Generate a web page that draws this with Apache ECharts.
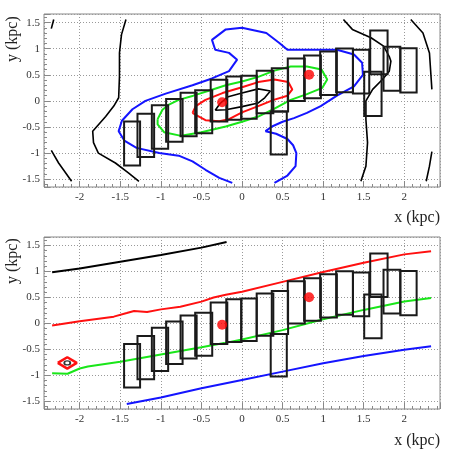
<!DOCTYPE html>
<html><head><meta charset="utf-8">
<script src="https://cdn.jsdelivr.net/npm/echarts@6/dist/echarts.min.js"></script>
<style>html,body{margin:0;padding:0;background:#fff}#c{width:458px;height:462px}</style>
</head><body><div id="c"></div>
<script>
// ---- data ----
const xTickLabels = ['-2','-1.5','-1','-0.5','0','0.5','1','1.5','2'];
const yTickLabels = ['-1.5','-1','-0.5','0','0.5','1','1.5'];

const boxX0 = [-1.453,-1.288,-1.111,-0.935,-0.757,-0.577,-0.386,-0.194,-0.009,0.181,0.367,0.354,0.564,0.765,0.963,1.160,1.367,1.580,1.506,1.744,1.951];
const boxX1 = [-1.256,-1.083,-0.910,-0.732,-0.559,-0.367,-0.181,-0.009,0.181,0.386,0.568,0.552,0.774,0.972,1.169,1.367,1.568,1.794,1.720,1.951,2.152];
const boxY0 = [-1.236,-1.075,-0.916,-0.781,-0.679,-0.622,-0.397,-0.359,-0.340,-0.238,-0.205,-1.025,0.000,0.050,0.115,0.165,0.140,0.511,-0.288,0.192,0.159];
const boxY1 = [-0.397,-0.244,-0.084,0.038,0.154,0.204,0.403,0.466,0.480,0.576,0.626,-0.205,0.812,0.869,0.946,1.004,0.979,1.349,0.557,1.036,1.010];

const dotX = [-0.245, 0.827];
const dotY = [-0.027, 0.503];

// top panel contours
const cBlackLeft = [[-1.43,1.56],[-1.485,1.27],[-1.51,0.92],[-1.51,0.47],[-1.52,0.06],[-1.58,-0.10],[-1.68,-0.30],[-1.84,-0.58],[-1.83,-0.80],[-1.77,-1.0],[-1.56,-1.19],[-1.40,-1.38],[-1.27,-1.54]];
const cBlackTL = [[-2.35,1.385],[-2.32,1.56]];
const cBlackBL = [[-2.35,-0.95],[-2.26,-1.19],[-2.10,-1.54]];
const cBlackR = [[2.08,1.56],[2.23,1.30],[2.31,0.92],[2.34,0.22]];
const cBlackBR = [[2.34,-0.97],[2.31,-1.25],[2.27,-1.54]];
const cBlackMid = [[1.25,1.56],[1.36,1.37],[1.59,1.21],[1.745,1.05],[1.815,0.85],[1.835,0.76],[1.815,0.57],[1.73,0.41],[1.61,0.22],[1.527,0.0],[1.527,-0.36],[1.547,-0.80],[1.527,-1.25],[1.465,-1.54]];
const cBlackCore = [[-0.33,-0.18],[-0.27,-0.05],[-0.17,0.08],[0.0,0.15],[0.2,0.23],[0.35,0.19],[0.28,0.06],[0.2,-0.04],[0.0,-0.11],[-0.2,-0.17],[-0.33,-0.18]];
const cRed = [[-0.61,-0.23],[-0.57,-0.10],[-0.45,0.02],[-0.24,0.15],[0,0.26],[0.2,0.36],[0.4,0.41],[0.57,0.36],[0.62,0.22],[0.56,0.10],[0.39,0.02],[0.2,-0.10],[0,-0.22],[-0.16,-0.35],[-0.28,-0.39],[-0.45,-0.37],[-0.57,-0.27],[-0.61,-0.23]];
const cGreen = [[-1.04,-0.35],[-0.98,-0.17],[-0.9,-0.07],[-0.78,0.02],[-0.6,0.10],[-0.4,0.20],[-0.2,0.30],[0,0.37],[0.2,0.46],[0.4,0.58],[0.6,0.66],[0.8,0.66],[0.98,0.60],[1.05,0.41],[0.99,0.25],[0.8,0.13],[0.6,0.02],[0.4,-0.15],[0.2,-0.30],[0,-0.40],[-0.2,-0.49],[-0.5,-0.60],[-0.75,-0.67],[-0.96,-0.60],[-1.04,-0.45],[-1.04,-0.35]];
const cBlue = [[-0.12,-1.57],[-0.28,-1.475],[-0.45,-1.32],[-0.61,-1.16],[-0.78,-1.05],[-1.02,-1.0],[-1.30,-0.90],[-1.45,-0.76],[-1.52,-0.58],[-1.48,-0.38],[-1.35,-0.16],[-1.19,0.0],[-0.94,0.14],[-0.61,0.30],[-0.37,0.43],[-0.16,0.57],[-0.06,0.79],[-0.16,0.92],[-0.33,0.98],[-0.37,1.17],[-0.2,1.37],[0.0,1.40],[0.3,1.30],[0.46,1.11],[0.56,0.98],[1.17,0.98],[1.38,0.89],[1.48,0.73],[1.49,0.50],[1.38,0.28],[1.17,0.10],[0.97,-0.10],[0.8,-0.23],[0.64,-0.33],[0.5,-0.40],[0.37,-0.49],[0.29,-0.58],[0.42,-0.63],[0.56,-0.73],[0.63,-0.85],[0.67,-1.0],[0.66,-1.25],[0.56,-1.43],[0.40,-1.57]];

// bottom panel lines
const lBlack = [[-2.34,0.985],[-2,1.06],[-1.5,1.19],[-1,1.32],[-0.5,1.46],[-0.19,1.57]];
const lRed = [[-2.34,-0.04],[-2,0.04],[-1.58,0.13],[-1.42,0.2],[-1.33,0.24],[-1.17,0.22],[-1,0.27],[-0.76,0.32],[-0.5,0.42],[-0.35,0.5],[-0.2,0.55],[0,0.61],[0.5,0.8],[1,0.99],[1.5,1.17],[2,1.33],[2.33,1.39]];
const lGreen = [[-2.34,-0.96],[-2.15,-0.97],[-2.0,-0.87],[-1.9,-0.83],[-1.5,-0.74],[-1,-0.6],[-0.5,-0.46],[-0.22,-0.38],[0,-0.31],[0.5,-0.13],[1,0.08],[1.5,0.26],[2,0.42],[2.33,0.49]];
const lBlue = [[-1.42,-1.555],[-1,-1.43],[-0.5,-1.25],[0,-1.09],[0.5,-0.93],[1,-0.77],[1.5,-0.63],[2,-0.51],[2.33,-0.44]];
const lDiamond = [[-2.27,-0.762],[-2.153,-0.652],[-2.036,-0.762],[-2.153,-0.872],[-2.27,-0.762]];
const lDiamondCore = [[-2.153,-0.762]];

// ---- chart ----
const serif = "'Liberation Serif','DejaVu Serif',serif";
const chart = echarts.init(document.getElementById('c'));
const fmt = (labels) => (v) => { const s = String(Math.round(v*10)/10); return labels.includes(s) ? s : ''; };

function xAx(gi){ return {
  type:'value', gridIndex:gi, min:-2.44, max:2.44, splitNumber:10,
  axisLine:{show:false, onZero:false}, axisTick:{show:true, inside:true, length:6, lineStyle:{color:'#888'}},
  minorTick:{show:true, splitNumber:5, length:3, lineStyle:{color:'#888'}},
  splitLine:{show:true, lineStyle:{color:'#999', type:[1,2], width:1}},
  axisLabel:{formatter:fmt(xTickLabels), showMinLabel:false, showMaxLabel:false, color:'#333', fontFamily:serif, fontSize:11, margin:5}
};}
function yAx(gi){ return {
  type:'value', gridIndex:gi, min:-1.65, max:1.665, splitNumber:7,
  axisLine:{show:false, onZero:false}, axisTick:{show:true, inside:true, length:6, lineStyle:{color:'#888'}},
  minorTick:{show:true, splitNumber:5, length:3, lineStyle:{color:'#888'}},
  splitLine:{show:true, lineStyle:{color:'#999', type:[1,2], width:1}},
  axisLabel:{formatter:fmt(yTickLabels), showMinLabel:false, showMaxLabel:false, color:'#333', fontFamily:serif, fontSize:11, margin:4}
};}

function line(data, color, gi, w){ return {type:'line', xAxisIndex:gi, yAxisIndex:gi, data:data, showSymbol:false, symbol:'none', smooth:false, silent:true, animation:false, lineStyle:{color:color, width:w||2}, z:2}; }

const boxData = boxX0.map((x,i)=>[x, boxX1[i], boxY0[i], boxY1[i]]);
function boxes(gi){ return {
  type:'custom', xAxisIndex:gi, yAxisIndex:gi, data:boxData, animation:false, z:3,
  renderItem:(params, api)=>{
    const p0 = api.coord([api.value(0), api.value(3)]);
    const p1 = api.coord([api.value(1), api.value(2)]);
    return {type:'rect', shape:{x:p0[0], y:p0[1], width:p1[0]-p0[0], height:p1[1]-p0[1]},
      style:{fill:'none', stroke:'#1a1a1a', lineWidth:2}};
  }
};}
function dots(gi){ return {type:'scatter', xAxisIndex:gi, yAxisIndex:gi, data:dotX.map((x,i)=>[x,dotY[i]]), symbol:'circle', symbolSize:10, itemStyle:{color:'#ff0000'}, z:5, animation:false, silent:true}; }

const series = [
  line(cBlackLeft,'#000',0,1.6), line(cBlackTL,'#000',0,1.6), line(cBlackBL,'#000',0,1.6),
  line(cBlackR,'#000',0,1.6), line(cBlackBR,'#000',0,1.6), line(cBlackMid,'#000',0,1.6),
  line(cBlue,'#1414ff',0,2), line(cGreen,'#19e619',0,2), line(cRed,'#ff1010',0,2), line(cBlackCore,'#000',0,1.6),
  boxes(0), dots(0),
  line(lBlack,'#000',1,2), line(lRed,'#ff1010',1,2), line(lGreen,'#19e619',1,2), line(lBlue,'#1414ff',1,2),
  line(lDiamond,'#ff1010',1,2.5),
  {type:'scatter', xAxisIndex:1, yAxisIndex:1, data:lDiamondCore, symbol:'circle', symbolSize:[6,4], itemStyle:{color:'#fff', borderColor:'#000', borderWidth:1.5}, z:4, animation:false, silent:true},
  boxes(1), dots(1)
];

chart.setOption({
  animation:false,
  backgroundColor:'#fff',
  grid:[
    {left:44, top:14, width:396, height:173, show:true, borderColor:'#888', borderWidth:1},
    {left:44, top:237, width:396, height:172, show:true, borderColor:'#888', borderWidth:1}
  ],
  xAxis:[xAx(0), xAx(1)],
  yAxis:[yAx(0), yAx(1)],
  series:series,
  graphic:[
    {type:'text', right:18, top:210, style:{text:'x (kpc)', font:'16px '+serif, fill:'#222'}},
    {type:'text', right:18, top:433, style:{text:'x (kpc)', font:'16px '+serif, fill:'#222'}},
    {type:'text', x:5, y:62, rotation:Math.PI/2, style:{text:'y (kpc)', font:'16px '+serif, fill:'#222', textVerticalAlign:'top'}},
    {type:'text', x:5, y:284, rotation:Math.PI/2, style:{text:'y (kpc)', font:'16px '+serif, fill:'#222', textVerticalAlign:'top'}}
  ]
});
</script></body></html>
